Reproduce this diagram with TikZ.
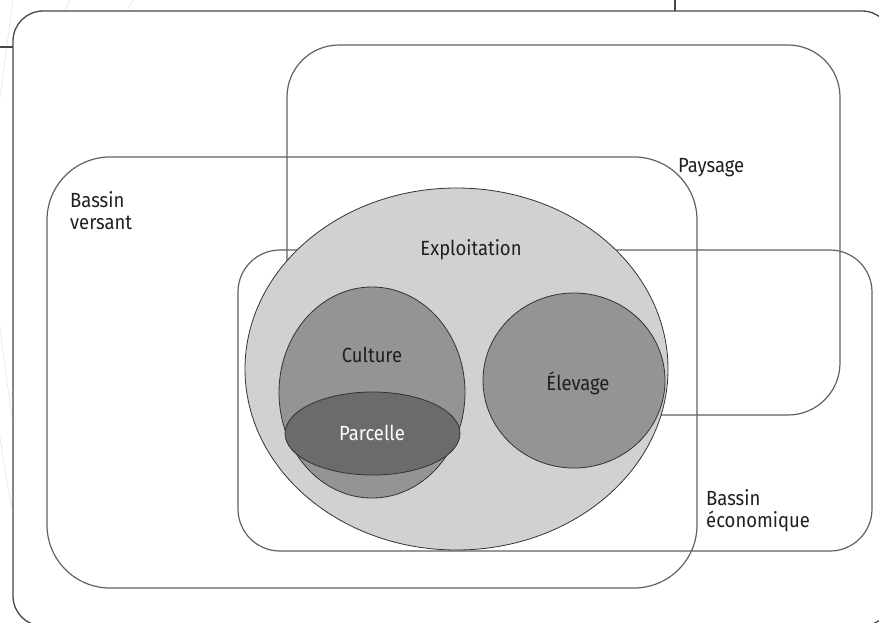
\documentclass[tikz,border=0pt]{standalone}
\usepackage{fontspec}
\setmainfont{Fira Sans}[FakeStretch=0.9]
\begin{document}
\begin{tikzpicture}[x=1pt,y=-1pt,
  frame/.style={draw=black!72, line width=1.3pt},
  zone/.style={draw=black!62, line width=1.2pt},
  blob/.style={draw=black!80, line width=0.8pt},
  faint/.style={draw=black!10, line width=0.6pt},
  lbl/.style={inner sep=0pt, text=black!88, font=\fontsize{20.5}{22}\selectfont},
]
\useasboundingbox (0,0) rectangle (879,622);
\begin{scope}
\clip (0,0) rectangle (879,622);
% faint background curves
\draw[faint] (0,97) .. controls (5,60) and (9,30) .. (13,0);
\draw[faint] (65,11) -- (70,0);
\draw[faint] (127,11) -- (133,0);
\draw[faint] (0,327) .. controls (4,360) and (8,390) .. (12,417);
\draw[faint] (0,437) .. controls (4,465) and (8,490) .. (12,507);
% outer frame with stubs
\draw[frame, rounded corners=30pt] (13,11) rectangle (892,626);
\coordinate (s1) at (0,47);
\coordinate (s1e) at (13,47);
\coordinate (s2) at (675,0);
\coordinate (s2e) at (675,11);
\draw[frame] (s1) -- (s1e);
\draw[frame] (s2) -- (s2e);
\end{scope}
% zones
\node[zone, rounded corners=52pt, minimum width=553pt, minimum height=370pt, inner sep=0pt] (pays) at (563.5,230) {};
\node[zone, rounded corners=63pt, minimum width=650pt, minimum height=431pt, inner sep=0pt] (bv) at (372,372.5) {};
\node[zone, rounded corners=42pt, minimum width=634pt, minimum height=301pt, inner sep=0pt] (be) at (555,400.5) {};
% ellipses
\fill[black!18] (456.5,369) ellipse [x radius=211.5, y radius=181];
\draw[blob] (456.5,369) ellipse [x radius=211.5, y radius=181];
\coordinate (expl) at (456.5,369);
\draw[blob, fill=black!42] (372,392.5) ellipse [x radius=93, y radius=105.5];
\coordinate (cult) at (372,392.5);
\draw[blob, fill=black!42] (574,380.5) ellipse [x radius=91, y radius=87.5];
\coordinate (elev) at (574,380.5);
\draw[blob, fill=black!58] (372.5,433.5) ellipse [x radius=87.5, y radius=41.5];
\coordinate (parc) at (372.5,433.5);
% labels
\node[lbl, anchor=base] (tExpl) at (471,255) {Exploitation};
\node[lbl, anchor=base] (tCult) at (372,362) {Culture};
\node[lbl, anchor=base, text=white] (tParc) at (372,440) {Parcelle};
\node[lbl, anchor=base] (tElev) at (578,390) {Élevage};
\node[lbl, anchor=base west] (tPays) at (678,172) {Paysage};
\node[lbl, anchor=base west] (tBv1) at (70,207) {Bassin};
\node[lbl, anchor=base west] (tBv2) at (70,229) {versant};
\node[lbl, anchor=base west] (tBe1) at (706,505) {Bassin};
\node[lbl, anchor=base west] (tBe2) at (706,527) {économique};
\end{tikzpicture}
\end{document}
